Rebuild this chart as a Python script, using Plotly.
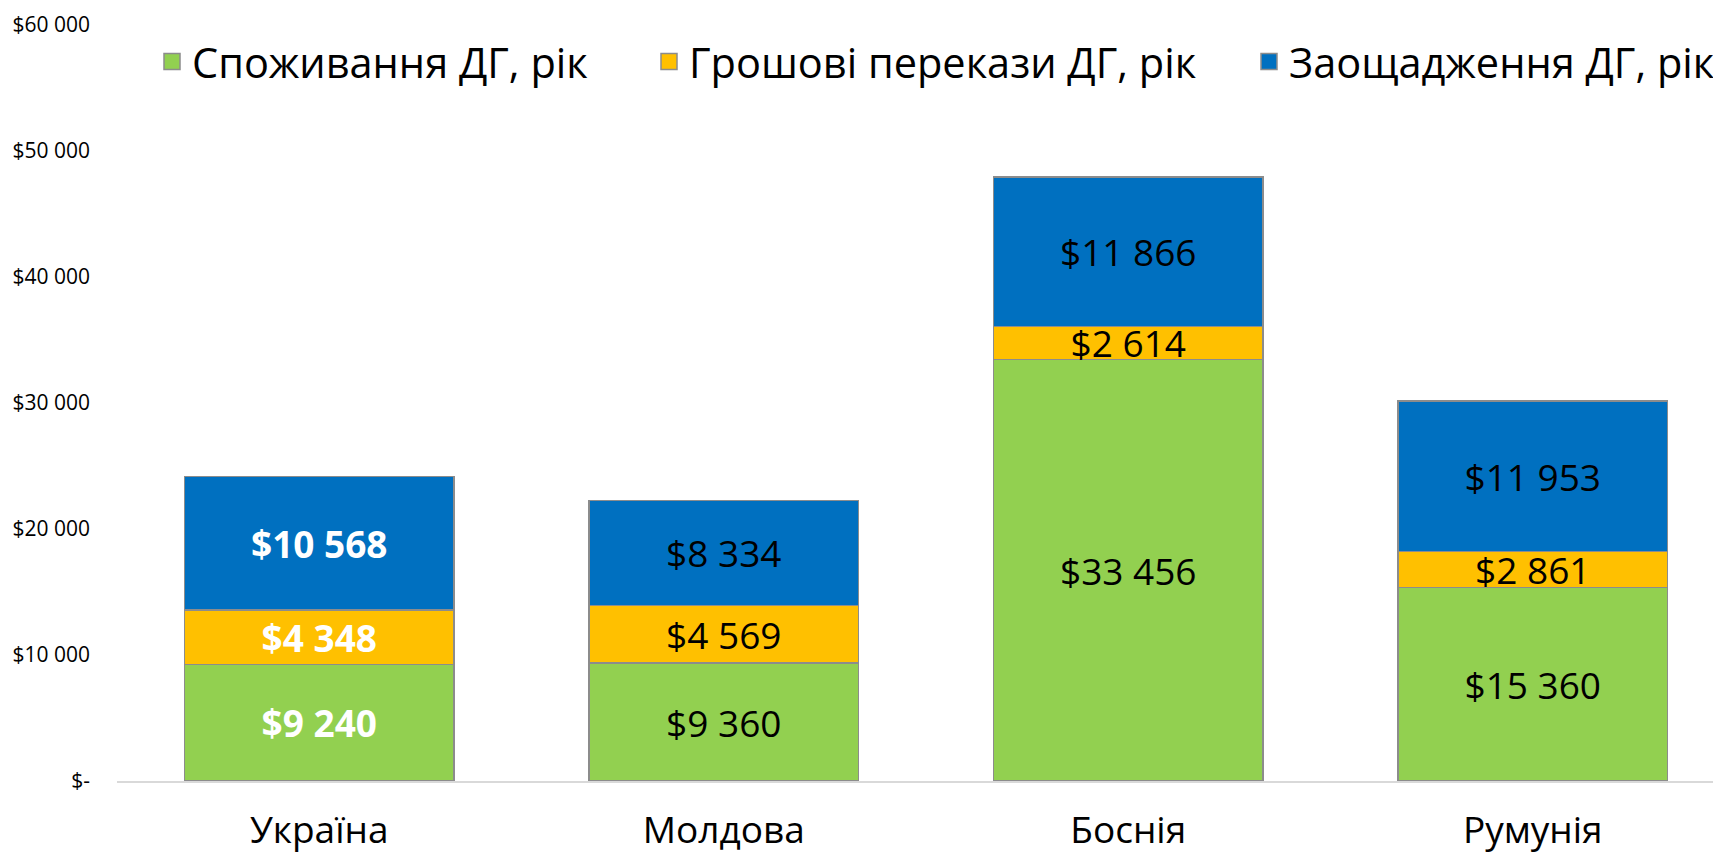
import plotly.graph_objects as go

categories = ["Україна", "Молдова", "Боснія", "Румунія"]
consumption = [9240, 9360, 33456, 15360]
remittances = [4348, 4569, 2614, 2861]
savings = [10568, 8334, 11866, 11953]

series_names = ["Споживання ДГ, рік", "Грошові перекази ДГ, рік", "Заощадження ДГ, рік"]
colors = ["#92D050", "#FFC000", "#0070C0"]
y_tickvals = [0, 10000, 20000, 30000, 40000, 50000, 60000]
y_ticktext = ["$-", "$10 000", "$20 000", "$30 000", "$40 000", "$50 000", "$60 000"]

FONT = "Open Sans"
# page body has an 8px default margin, so the figure is sized to fit the window
W, H = 1713, 848
ML, MR, MT, MB = 109, 0, 16.5, 74.5

fig = go.Figure()
templates = ["<b>$%{y:,.0f}</b>", "$%{y:,.0f}", "$%{y:,.0f}", "$%{y:,.0f}"]
txtcolors = ["white", "black", "black", "black"]
legend_ids = ["legend", "legend2", "legend3"]
for name, vals, col, lg in zip(series_names, [consumption, remittances, savings], colors, legend_ids):
    fig.add_trace(go.Bar(
        x=categories, y=vals, name=name, marker=dict(color=col, line=dict(color="#8c8c8c", width=1.5)),
        texttemplate=templates, textposition="inside", insidetextanchor="middle",
        textangle=0, constraintext="none", cliponaxis=False,
        textfont=dict(family=FONT, size=37, color=txtcolors),
        showlegend=False, legendgroup=name, hoverinfo="skip",
    ))
    fig.add_trace(go.Scatter(
        x=[None], y=[None], mode="markers", name=name, legendgroup=name, legend=lg,
        marker=dict(symbol="square", size=16, color=col, line=dict(color="#8c8c8c", width=1.5)),
        showlegend=True,
    ))

plot_w = W - ML - MR
slot = 404.5
x_hi = -0.5 + plot_w / slot

def lx(px):
    return (px - ML) / plot_w

legend_common = dict(orientation="h", yanchor="middle", y=(H - MB - 53) / (H - MT - MB),
                     xanchor="left", font=dict(family=FONT, size=41.5, color="black"),
                     bgcolor="rgba(0,0,0,0)", itemsizing="trace")

fig.update_layout(
    width=W, height=H,
    margin=dict(l=ML, r=MR, t=MT, b=MB, autoexpand=False),
    barmode="stack", bargap=0.333,
    separators=", ",
    plot_bgcolor="white", paper_bgcolor="white",
    font=dict(family=FONT, color="black"),
    uniformtext=dict(minsize=37, mode="show"),
    legend=dict(legend_common, x=lx(144)),
    legend2=dict(legend_common, x=lx(641)),
    legend3=dict(legend_common, x=lx(1241)),
    xaxis=dict(range=[-0.5, x_hi], showline=True, linecolor="#d9d9d9", linewidth=1.5,
               showgrid=False, zeroline=False, ticks="", ticklabelstandoff=16,
               tickfont=dict(family=FONT, size=37, color="black")),
    yaxis=dict(range=[0, 60000], tickvals=y_tickvals, ticktext=y_ticktext,
               showgrid=False, zeroline=False, showline=False, ticks="",
               ticklabelstandoff=26, tickfont=dict(family=FONT, size=21, color="black")),
)

fig.write_html("out.html")
